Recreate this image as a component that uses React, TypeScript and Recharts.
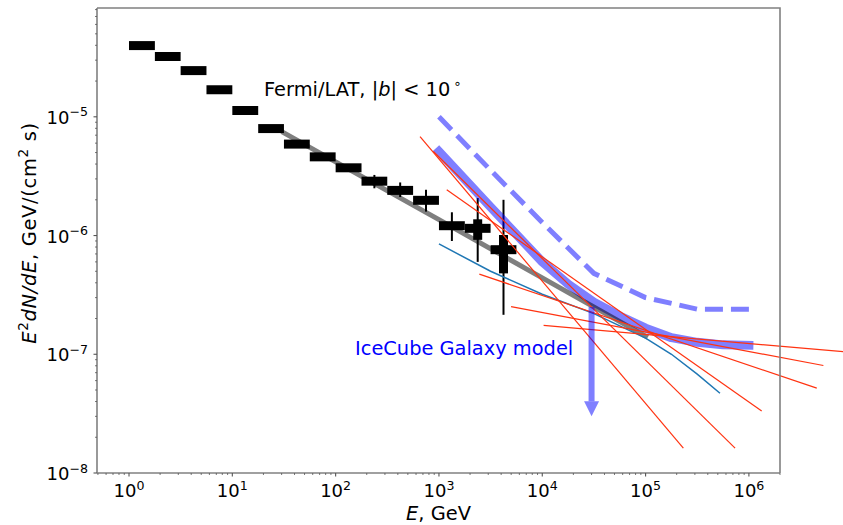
import React from "react";
import {
  ComposedChart,
  XAxis,
  YAxis,
  Line,
  Scatter,
  ErrorBar,
  ReferenceLine,
} from "recharts";

// Fermi/LAT diffuse emission, |b| < 10 deg: energy bins (GeV) and E^2 dN/dE
const fermiBinLo = [1, 1.78, 3.16, 5.62, 10, 17.8, 31.6, 56.2, 100, 178, 316, 562, 1000, 1780, 3160];
const fermiBinHi = [1.78, 3.16, 5.62, 10, 17.8, 31.6, 56.2, 100, 178, 316, 562, 1000, 1780, 3160, 5620];
const fermiFlux = [3.98e-5, 3.22e-5, 2.45e-5, 1.69e-5, 1.13e-5, 7.96e-6, 5.89e-6, 4.6e-6, 3.72e-6, 2.87e-6, 2.4e-6, 1.98e-6, 1.21e-6, 1.15e-6, 7.6e-7];
// total (thin) and systematic (thick) vertical ranges
const fermiStatLo = [3.98e-5, 3.22e-5, 2.45e-5, 1.69e-5, 1.13e-5, 7.96e-6, 5.89e-6, 4.6e-6, 3.72e-6, 2.5e-6, 2.11e-6, 1.59e-6, 9.0e-7, 6.0e-7, 2.15e-7];
const fermiStatHi = [3.98e-5, 3.22e-5, 2.45e-5, 1.69e-5, 1.13e-5, 7.96e-6, 5.89e-6, 4.6e-6, 3.72e-6, 3.24e-6, 2.8e-6, 2.43e-6, 1.57e-6, 2.07e-6, 2.0e-6];
const fermiSysLo = [3.98e-5, 3.22e-5, 2.45e-5, 1.69e-5, 1.13e-5, 7.96e-6, 5.89e-6, 4.6e-6, 3.72e-6, 2.87e-6, 2.4e-6, 1.98e-6, 1.21e-6, 9.2e-7, 4.8e-7];
const fermiSysHi = [3.98e-5, 3.22e-5, 2.45e-5, 1.69e-5, 1.13e-5, 7.96e-6, 5.89e-6, 4.6e-6, 3.72e-6, 2.87e-6, 2.4e-6, 1.98e-6, 1.21e-6, 1.37e-6, 1.01e-6];

// power-law fit to the Fermi points
const fermiFitE = [31.6, 100, 1000, 1e4, 1e5];
const fermiFitF = [7.33e-6, 4.17e-6, 1.36e-6, 4.4e-7, 1.42e-7];

// IceCube Galaxy model (solid) and its upper envelope (dashed)
const galaxyE = [1e3, 3.16e3, 1e4, 1.78e4, 3.16e4, 5.62e4, 1e5, 1.78e5, 3.16e5, 5.62e5, 1e6];
const galaxyF = [5.1e-6, 1.74e-6, 6.0e-7, 3.9e-7, 2.75e-7, 2.1e-7, 1.66e-7, 1.38e-7, 1.26e-7, 1.2e-7, 1.19e-7];
const galaxyHiE = [1e3, 3.16e3, 1e4, 3.16e4, 1e5, 3.16e5, 1e6];
const galaxyHiF = [1.0e-5, 3.55e-6, 1.29e-6, 4.8e-7, 3.0e-7, 2.4e-7, 2.4e-7];

// alternative model curve
const modelE = [1e3, 3.16e3, 1e4, 3.16e4, 1e5, 1.78e5, 3.16e5, 5.25e5];
const modelF = [8.5e-7, 5.0e-7, 3.2e-7, 2.2e-7, 1.37e-7, 1.0e-7, 6.8e-8, 4.7e-8];

// IceCube power-law fits: start/end energy and flux
const fitE0 = [656, 883, 1189, 2460, 4990, 1.03e4];
const fitF0 = [6.82e-6, 5.1e-6, 2.43e-6, 4.73e-7, 2.52e-7, 1.75e-7];
const fitE1 = [2.32e5, 7.35e5, 1.33e6, 4.54e6, 5.26e6, 8.2e6];
const fitF1 = [1.62e-8, 1.62e-8, 3.33e-8, 5.18e-8, 8.04e-8, 1.05e-7];

// upper limit at 30 TeV
const limitE = 3e4;
const limitF = 2.5e-7;
const limitTipF = 3e-8;
const limitHeadBaseF = 4e-8;

const X_DOMAIN = [0.49, 2e6];
const Y_DOMAIN = [1e-8, 8.25e-5];

function logTicks(lo: number, hi: number, kMin: number, kMax: number) {
  const out: number[] = [];
  for (let k = kMin; k <= kMax; k++) {
    for (let m = 1; m <= 9; m++) {
      const v = m * Math.pow(10, k);
      if (v >= lo * 0.999 && v <= hi * 1.001) out.push(v);
    }
  }
  return out;
}

const xTicks = logTicks(X_DOMAIN[0], X_DOMAIN[1], -1, 6);
const yTicks = logTicks(Y_DOMAIN[0], Y_DOMAIN[1], -8, -5);

const FONT = "DejaVu Sans, sans-serif";
const SPINE = "#808080";
const TICK = "#555555";

// plot box (chart margins + axis sizes below)
const PLOT = { left: 97, top: 8, right: 780, bottom: 473 };

const fermiData = fermiFlux.map((f, i) => {
  const x = Math.sqrt(fermiBinLo[i] * fermiBinHi[i]);
  return {
    x,
    y: f,
    xErr: [x - fermiBinLo[i], fermiBinHi[i] - x],
    statErr: [f - fermiStatLo[i], fermiStatHi[i] - f],
    sysErr: [f - fermiSysLo[i], fermiSysHi[i] - f],
  };
});

const toPoints = (es: number[], fs: number[]) => es.map((x, i) => ({ x, y: fs[i] }));
const fermiFit = toPoints(fermiFitE, fermiFitF);
const galaxy = toPoints(galaxyE, galaxyF);
const galaxyHi = toPoints(galaxyHiE, galaxyHiF);
const model = toPoints(modelE, modelF);
const limitShaft = [
  { x: limitE, y: limitF },
  { x: limitE, y: limitHeadBaseF },
];
const limitTip = [{ x: limitE, y: limitTipF }];

const isMajor = (v: number) => Math.abs(Math.log10(v) - Math.round(Math.log10(v))) < 1e-6;
const expLabel = (v: number) => {
  const p = Math.round(Math.log10(v));
  return p < 0 ? `\u2212${-p}` : `${p}`;
};

function XTick(props: any) {
  const { x, y, payload } = props;
  const major = isMajor(payload.value);
  return (
    <g>
      <line x1={x} x2={x} y1={y} y2={y + (major ? 3.5 : 2)} stroke={TICK} strokeWidth={major ? 1.1 : 0.8} />
      {major && (
        <text x={x} y={y + 24} textAnchor="middle" fontSize={18} fontFamily={FONT} fill="#000">
          10
          <tspan dy={-7.4} fontSize={12.6}>
            {expLabel(payload.value)}
          </tspan>
        </text>
      )}
    </g>
  );
}

function YTick(props: any) {
  const { x, y, payload } = props;
  const major = isMajor(payload.value);
  return (
    <g>
      <line x1={x} x2={x - (major ? 3.5 : 2)} y1={y} y2={y} stroke={TICK} strokeWidth={major ? 1.1 : 0.8} />
      {major && (
        <text x={x - 9} y={y + 7} textAnchor="end" fontSize={18} fontFamily={FONT} fill="#000">
          10
          <tspan dy={-7.4} fontSize={12.6}>
            {expLabel(payload.value)}
          </tspan>
        </text>
      )}
    </g>
  );
}

const ArrowHead = (props: any) => {
  const { cx, cy } = props;
  return <path d={`M${cx - 7.5},${cy - 15} L${cx + 7.5},${cy - 15} L${cx},${cy} Z`} fill="#8080ff" />;
};

const NoMarker = () => <g />;

export default function App() {
  return (
    <div style={{ position: "absolute", left: 0, top: 0, width: 843, height: 525, background: "#fff" }}>
      <ComposedChart width={843} height={525} margin={{ top: 8, right: 63, bottom: 12, left: 7 }}>
        <XAxis
          dataKey="x"
          type="number"
          scale="log"
          domain={X_DOMAIN}
          allowDataOverflow
          ticks={xTicks}
          interval={0}
          tick={<XTick />}
          tickLine={false}
          tickSize={0}
          tickMargin={0}
          height={40}
          axisLine={{ stroke: SPINE, strokeWidth: 1.6 }}
        />
        <YAxis
          dataKey="y"
          type="number"
          scale="log"
          domain={Y_DOMAIN}
          allowDataOverflow
          ticks={yTicks}
          interval={0}
          tick={<YTick />}
          tickLine={false}
          tickSize={0}
          tickMargin={0}
          width={90}
          axisLine={{ stroke: SPINE, strokeWidth: 1.6 }}
        />

        <Scatter data={fermiData} dataKey="y" shape={NoMarker} isAnimationActive={false}>
          <ErrorBar dataKey="xErr" direction="x" width={0} stroke="#000" strokeWidth={9} isAnimationActive={false} />
          <ErrorBar dataKey="sysErr" direction="y" width={0} stroke="#000" strokeWidth={9} isAnimationActive={false} />
          <ErrorBar dataKey="statErr" direction="y" width={0} stroke="#000" strokeWidth={2} isAnimationActive={false} />
        </Scatter>

        <Line
          data={galaxy}
          dataKey="y"
          type="linear"
          stroke="#0000ff"
          strokeOpacity={0.5}
          strokeWidth={9}
          strokeLinecap="square"
          strokeLinejoin="round"
          dot={false}
          activeDot={false}
          isAnimationActive={false}
        />
        <Line
          data={galaxyHi}
          dataKey="y"
          type="linear"
          stroke="#0000ff"
          strokeOpacity={0.5}
          strokeWidth={5}
          strokeDasharray="18 8"
          strokeLinejoin="round"
          dot={false}
          activeDot={false}
          isAnimationActive={false}
        />
        <Line
          data={fermiFit}
          dataKey="y"
          type="linear"
          stroke="#000"
          strokeOpacity={0.5}
          strokeWidth={5}
          strokeLinecap="square"
          dot={false}
          activeDot={false}
          isAnimationActive={false}
        />
        <Line
          data={model}
          dataKey="y"
          type="linear"
          stroke="#1f77b4"
          strokeWidth={1.5}
          dot={false}
          activeDot={false}
          isAnimationActive={false}
        />

        {fitE0.map((e0, i) => (
          <ReferenceLine
            key={`fit-${i}`}
            segment={[
              { x: e0, y: fitF0[i] },
              { x: fitE1[i], y: fitF1[i] },
            ]}
            stroke="#ff3311"
            strokeWidth={1.2}
            ifOverflow="visible"
          />
        ))}

        <Line
          data={limitShaft}
          dataKey="y"
          type="linear"
          stroke="#0000ff"
          strokeOpacity={0.5}
          strokeWidth={6}
          strokeLinecap="butt"
          dot={false}
          activeDot={false}
          isAnimationActive={false}
        />
        <Scatter data={limitTip} dataKey="y" shape={ArrowHead} isAnimationActive={false} />
      </ComposedChart>

      <svg width={843} height={525} style={{ position: "absolute", left: 0, top: 0, pointerEvents: "none" }}>
        {/* top and right spines */}
        <polyline
          points={`${PLOT.left},${PLOT.top} ${PLOT.right},${PLOT.top} ${PLOT.right},${PLOT.bottom}`}
          fill="none"
          stroke={SPINE}
          strokeWidth={1.6}
        />
        <text x={264} y={96} fontSize={19.4} fontFamily={FONT} fill="#000">
          {"Fermi/LAT, |"}
          <tspan fontStyle="italic">b</tspan>
          {"| < 10"}
          <tspan dx={3} dy={-8} fontSize={13.6}>
            {"\u2218"}
          </tspan>
        </text>
        <text x={355} y={355} fontSize={19.4} fontFamily={FONT} fill="#0000ff">
          IceCube Galaxy model
        </text>
        <text x={438.5} y={520} textAnchor="middle" fontSize={19.4} fontFamily={FONT} fill="#000">
          <tspan fontStyle="italic">E</tspan>
          {", GeV"}
        </text>
        <text
          transform="translate(36,233) rotate(-90)"
          textAnchor="middle"
          fontSize={19.4}
          letterSpacing={0.7}
          fontFamily={FONT}
          fill="#000"
        >
          <tspan fontStyle="italic">E</tspan>
          <tspan dy={-8} fontSize={13.6}>
            2
          </tspan>
          <tspan dy={8} fontStyle="italic">
            dN/dE
          </tspan>
          {", GeV/(cm"}
          <tspan dy={-8} fontSize={13.6}>
            2
          </tspan>
          <tspan dy={8}>{" s)"}</tspan>
        </text>
      </svg>
    </div>
  );
}
